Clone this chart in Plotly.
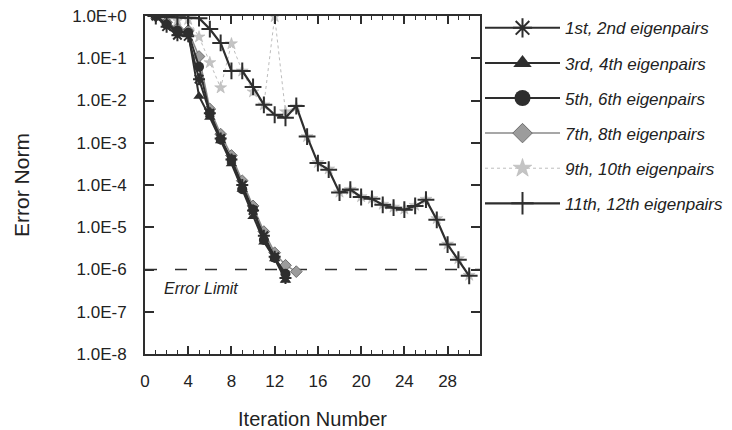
import plotly.graph_objects as go

# ---------------- data ----------------
iters_fast = list(range(1, 14))
iters_diam = list(range(1, 15))
iters_slow = list(range(1, 31))

err_1_2 = [1.0, 0.56, 0.35, 0.33, 0.032, 5.0e-3, 1.26e-3, 4.0e-4, 1.0e-4, 2.5e-5, 6.3e-6, 2.0e-6, 6.3e-7]
err_3_4 = [1.0, 0.63, 0.40, 0.40, 0.0126, 4.0e-3, 1.12e-3, 3.2e-4, 7.9e-5, 1.8e-5, 4.5e-6, 1.8e-6, 5.6e-7]
err_5_6 = [1.0, 0.63, 0.45, 0.40, 0.063, 5.0e-3, 1.2e-3, 4.0e-4, 7.9e-5, 2.6e-5, 5.0e-6, 1.9e-6, 7.9e-7]
err_7_8 = [1.0, 0.71, 0.50, 0.45, 0.11, 6.3e-3, 1.6e-3, 5.0e-4, 1.26e-4, 3.2e-5, 7.9e-6, 2.5e-6, 1.26e-6, 8.9e-7]
err_9_10 = [1.0, 0.8, 0.8, 0.83, 0.32, 0.079, 0.02, 0.22, 0.05, 0.016, 7.9e-3, 0.97, 5.4e-3, 7.1e-3,
            1.4e-3, 3.4e-4, 2.4e-4, 6.8e-5, 7.9e-5, 5.3e-5, 4.8e-5, 3.5e-5, 3.0e-5, 2.7e-5, 3.3e-5,
            4.6e-5, 1.6e-5, 4.0e-6, 1.8e-6, 7.3e-7]
err_11_12 = [1.0, 0.95, 0.93, 0.91, 0.89, 0.49, 0.23, 0.050, 0.050, 0.021, 7.9e-3, 4.6e-3, 3.9e-3,
             7.4e-3, 1.4e-3, 3.3e-4, 2.3e-4, 6.6e-5, 7.8e-5, 5.2e-5, 4.7e-5, 3.4e-5, 2.9e-5, 2.6e-5,
             3.2e-5, 4.5e-5, 1.5e-5, 3.9e-6, 1.7e-6, 7.1e-7]

series_names = ["1st, 2nd eigenpairs", "3rd, 4th eigenpairs", "5th, 6th eigenpairs",
                "7th, 8th eigenpairs", "9th, 10th eigenpairs", "11th, 12th eigenpairs"]

error_limit = 1e-6
y_tickvals = [1e0, 1e-1, 1e-2, 1e-3, 1e-4, 1e-5, 1e-6, 1e-7, 1e-8]
y_ticktext = ["1.0E+0", "1.0E-1", "1.0E-2", "1.0E-3", "1.0E-4", "1.0E-5", "1.0E-6", "1.0E-7", "1.0E-8"]
x_tickvals = [0, 4, 8, 12, 16, 20, 24, 28]

# ---------------- styling ----------------
DARK = "#2e2e2e"
TXT = "#222222"
FONT = "Liberation Sans, Arial, sans-serif"

styles = [
    dict(symbol="asterisk-open", size=10, lsize=16, color=DARK, lcolor=DARK, lw=2, dash="solid",
         mline=dict(color=DARK, width=2)),
    dict(symbol="triangle-up", size=10, lsize=16, color=DARK, lcolor=DARK, lw=2, dash="solid", mline=None),
    dict(symbol="circle", size=10, lsize=16, color=DARK, lcolor=DARK, lw=2, dash="solid", mline=None),
    dict(symbol="diamond", size=9, lsize=15, color="#9c9c9c", lcolor="#8a8a8a", lw=1.5, dash="solid",
         mline=dict(color="#6e6e6e", width=1)),
    dict(symbol="star", size=9, lsize=14, color="#c4c4c4", lcolor="#bdbdbd", lw=1, dash="dot",
         mline=dict(color="#b0b0b0", width=0.5)),
    dict(symbol="cross-thin-open", size=12, lsize=16, color=DARK, lcolor=DARK, lw=2.2, dash="solid",
         mline=dict(color=DARK, width=2)),
]
xs = [iters_fast, iters_fast, iters_fast, iters_diam, iters_slow, iters_slow]
ys = [err_1_2, err_3_4, err_5_6, err_7_8, err_9_10, err_11_12]
draw_order = [4, 3, 0, 1, 2, 5]

fig = go.Figure()

def marker_of(st, size):
    m = dict(symbol=st["symbol"], size=size, color=st["color"])
    if st["mline"]:
        m["line"] = st["mline"]
    return m

for i in draw_order:
    st = styles[i]
    fig.add_trace(go.Scatter(
        x=xs[i], y=ys[i], name=series_names[i], mode="lines+markers", showlegend=False,
        line=dict(color=st["lcolor"], width=st["lw"], dash=st["dash"]),
        marker=marker_of(st, st["size"]),
    ))

# legend entries (larger symbols, as in the reference key)
for i, st in enumerate(styles):
    fig.add_trace(go.Scatter(
        x=[None], y=[None], name="<i>" + series_names[i] + "</i>", mode="lines+markers",
        line=dict(color=st["lcolor"], width=st["lw"], dash=st["dash"]),
        marker=marker_of(st, st["lsize"]), showlegend=True, legendrank=i + 1,
        legendgroup="g%d" % i,
    ))

# error limit line
fig.add_shape(type="line", xref="paper", x0=0, x1=1, yref="y", y0=error_limit, y1=error_limit,
              line=dict(color=DARK, width=1.5, dash="12px,18px"), layer="below")

fig.add_annotation(text="<i>Error Limit</i>", xref="paper", yref="paper", x=0.05, y=0.195,
                   xanchor="left", yanchor="middle", showarrow=False,
                   font=dict(family=FONT, size=16, color=TXT))

fig.update_xaxes(
    range=[0, 31], tickvals=x_tickvals, ticks="inside", ticklen=8, tickwidth=1.5,
    tickcolor=DARK, showline=True, linewidth=2, linecolor=DARK, mirror="allticks",
    showgrid=False, zeroline=False, ticklabelstandoff=11, automargin=False,
    minor=dict(dtick=1, ticks="inside", ticklen=4, tickwidth=1.2, tickcolor=DARK, showgrid=False),
    tickfont=dict(family=FONT, size=17, color=TXT),
    title=dict(text="Iteration Number", font=dict(family=FONT, size=20, color=TXT), standoff=22),
)
fig.update_yaxes(
    type="log", range=[-8, 0], tickvals=y_tickvals, ticktext=y_ticktext,
    ticks="inside", ticklen=9, tickwidth=1.5, tickcolor=DARK,
    showline=True, linewidth=2, linecolor=DARK, mirror="allticks",
    showgrid=False, zeroline=False, ticklabelstandoff=13, automargin=False,
    tickfont=dict(family=FONT, size=17, color=TXT),
    title=dict(text="Error Norm", font=dict(family=FONT, size=21, color=TXT), standoff=37),
)

fig.update_layout(
    width=732, height=430,
    margin=dict(l=145, r=252, t=16, b=76, autoexpand=False),
    paper_bgcolor="white", plot_bgcolor="white",
    showlegend=True,
    legend=dict(
        x=1.0, y=1.017, xanchor="left", yanchor="top",
        font=dict(family=FONT, size=17, color=TXT),
        traceorder="grouped", tracegroupgap=10, itemwidth=75,
        bgcolor="rgba(0,0,0,0)",
    ),
)

fig.write_html("out.html", config={"displayModeBar": False},
               post_script="document.body.style.margin='0px';")
